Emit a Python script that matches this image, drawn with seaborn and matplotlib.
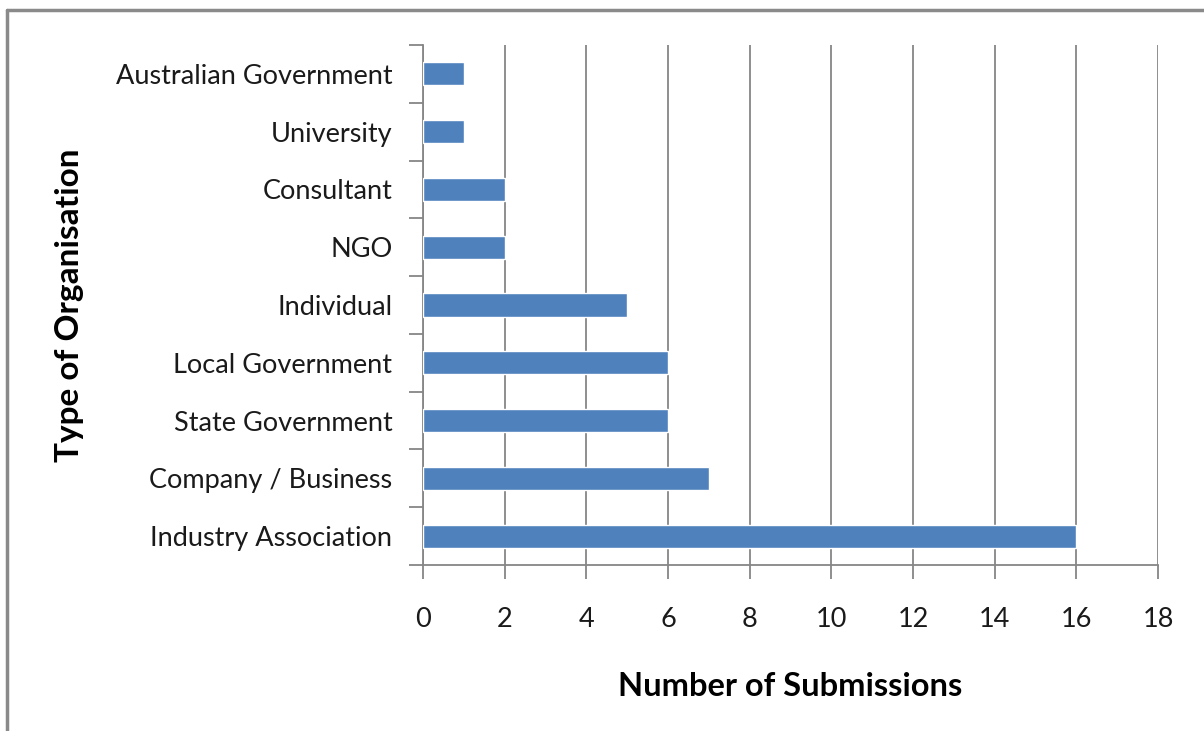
import matplotlib
matplotlib.use("Agg")
import matplotlib.pyplot as plt
import seaborn as sns
import pandas as pd
import numpy as np
from matplotlib.lines import Line2D

categories = ["Australian Government", "University", "Consultant", "NGO", "Individual",
              "Local Government", "State Government", "Company / Business", "Industry Association"]
values = [1, 1, 2, 2, 5, 6, 6, 7, 16]
x_ticks = [0, 2, 4, 6, 8, 10, 12, 14, 16, 18]

df = pd.DataFrame({"org": categories, "n": values})

sns.set_theme(style="white")
plt.rcParams["font.family"] = ["Lato", "DejaVu Sans"]

fig = plt.figure(figsize=(12.04, 7.31), dpi=100)
ax = fig.add_axes([0.3513, 0.2271, 0.9618 - 0.3513, 0.9384 - 0.2271])

sns.barplot(data=df, y="org", x="n", orient="h", color="#4F81BD", saturation=1,
            width=0.4, ax=ax, zorder=3)

grid_c = "#868686"
ax.set_xlim(0, 18)
ax.set_ylim(len(categories) - 0.5, -0.5)
ax.set_xticks(x_ticks)
ax.set_xticklabels([str(t) for t in x_ticks])
ax.xaxis.grid(True, color=grid_c, linewidth=1.3, zorder=0)
ax.set_axisbelow(True)

for s in ["top", "right"]:
    ax.spines[s].set_visible(False)
for s in ["left", "bottom"]:
    ax.spines[s].set_color(grid_c)
    ax.spines[s].set_linewidth(1.3)

ax.set_yticks(np.arange(-0.5, len(categories), 1.0), minor=True)
ax.tick_params(axis="y", which="minor", length=10, width=1.3, color=grid_c, direction="out", left=True)
ax.tick_params(axis="y", which="major", length=0, pad=22, labelsize=19.5, labelcolor="#1a1a1a")
ax.tick_params(axis="x", which="major", length=10, width=1.3, color=grid_c, direction="out",
               bottom=True, pad=20, labelsize=19.5, labelcolor="#1a1a1a")

ax.set_xlabel("Number of Submissions", fontsize=23.5, fontweight="bold", labelpad=29, color="#000000")
ax.set_ylabel("Type of Organisation", fontsize=24, fontweight="bold", labelpad=23, color="#000000")

fig.add_artist(Line2D([7/1204, 7/1204], [0, 1 - 10/731], transform=fig.transFigure, color="#8a8a8a", linewidth=2.5))
fig.add_artist(Line2D([7/1204, 1], [1 - 10/731, 1 - 10/731], transform=fig.transFigure, color="#8a8a8a", linewidth=2.5))

fig.savefig("out.png", dpi=100, facecolor="white")
